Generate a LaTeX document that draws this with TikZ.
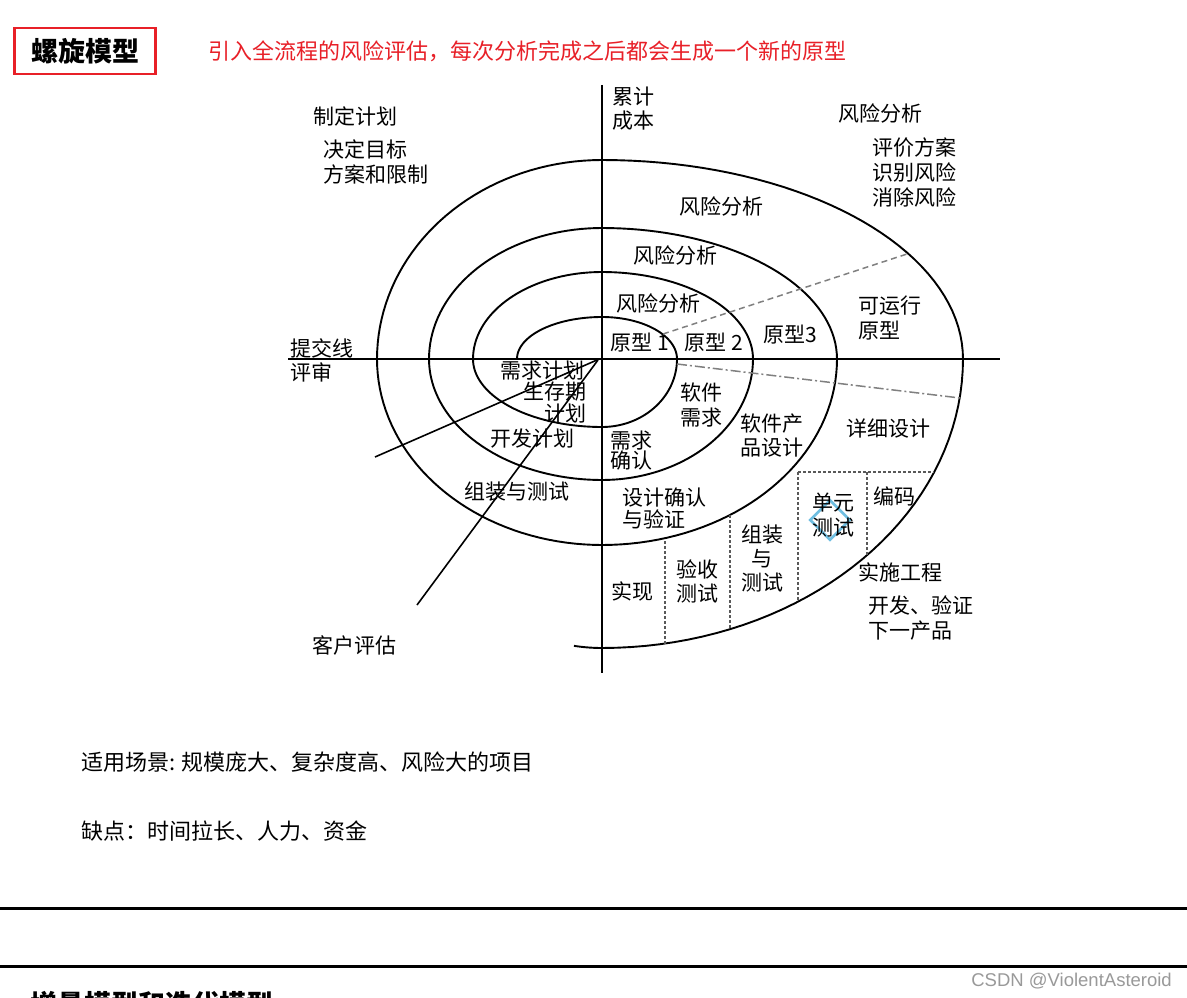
\documentclass[tikz,border=0pt]{standalone}
\usepackage{fontspec}
\setmainfont{Noto Sans CJK SC}
\newfontfamily\wmfont{Liberation Sans}
\usetikzlibrary{positioning}
\definecolor{titlered}{RGB}{232,32,40}
\definecolor{glitch}{RGB}{110,190,225}

\begin{document}
\begin{tikzpicture}[
  x=1pt, y=-1pt,
  spiral/.style={line width=1.9pt, line join=round},
  axis/.style={line width=1.6pt},
  guide/.style={draw=gray, line width=1.5pt, dash pattern=on 6pt off 4pt},
  cell/.style={draw=gray!70!black, line width=1.2pt, dash pattern=on 3pt off 2pt},
  lbl/.style={font=\fontsize{21}{25}\selectfont, inner sep=0pt, align=center},
  note/.style={font=\fontsize{22}{26}\selectfont, inner sep=0pt, anchor=west}
]
\useasboundingbox (0,0) rectangle (1187,998);
\fill[white] (0,0) rectangle (1187,998);

% heading
\node[draw=titlered, line width=2.6pt, minimum width=141pt, minimum height=46pt,
  font=\fontsize{27}{30}\selectfont\bfseries] (title) at (85,51) {螺旋模型};
\node[font=\fontsize{22}{26}\selectfont, text=titlered, inner sep=0pt, anchor=west]
  (subtitle) at (208,51) {引入全流程的风险评估，每次分析完成之后都会生成一个新的原型};

% axes
\coordinate (o) at (602,359);
\coordinate (ytop) at (602,85);
\coordinate (ybot) at (602,673);
\coordinate (xleft) at (288,359);
\coordinate (xright) at (1000,359);
\draw[axis] (ytop) -- (ybot);
\draw[axis] (xleft) -- (xright);

% spiral, quarter by quarter round (o)
\draw[spiral] (517,359)
  \foreach \a/\s/\rx/\ry in {180/90/85/42, 270/90/75/42, 0/90/75/68, 90/90/129/68,
      180/90/129/87, 270/90/151/87, 0/90/151/121, 90/90/173/121,
      180/90/173/131, 270/90/235/131, 0/90/235/186, 90/90/225/186,
      180/90/225/199, 270/90/361/199, 0/90/361/289, 90/7/230/289}
  { -- plot[domain=\a:\a+\s, samples=40, variable=\t] ({602+\rx*cos(\t)},{359+\ry*sin(\t)}) };

% customer review lines
\coordinate (c1) at (375,457);
\coordinate (c2) at (417,605);
\draw[axis] (597,360) -- (c1);
\draw[axis] (598,360) -- (c2);

% prototype guides
\draw[guide] (663,334) -- (907,254);
\draw[guide, dash pattern=on 10pt off 3pt on 2pt off 3pt] (677,364) -- (960,398);

% implementation cells
\draw[cell] (798,472) -- (934,472);
\draw[cell] (798,472) -- (798,602);
\draw[cell] (867,472) -- (867,555);
\draw[cell] (730,515) -- (730,629);
\draw[cell] (665,541) -- (665,644);
\draw[glitch, line width=2.6pt, rotate around={45:(830,520)}] (816,506) rectangle (844,534);

% labels
\node[lbl] (plan) at (355,116) {制定计划};
\node[lbl, anchor=west, align=left] (goal) at (323,162) {决定目标\\方案和限制};
\node[lbl, anchor=west, align=left, font=\fontsize{21}{24}\selectfont] (cost) at (612,109) {累计\\成本};
\node[lbl] (risk) at (880,113) {风险分析};
\node[lbl, anchor=west, align=left] (eval) at (872,172) {评价方案\\识别风险\\消除风险};
\node[lbl] (risk4) at (721,206) {风险分析};
\node[lbl] (risk3) at (675,255) {风险分析};
\node[lbl] (risk2) at (658,303) {风险分析};
\node[lbl] (proto1) at (640,343) {原型 1};
\node[lbl] (proto2) at (714,343) {原型 2};
\node[lbl, fill=white, inner sep=1pt] (proto3) at (790,335) {原型3};
\node[lbl, anchor=west, align=left] (proto4) at (858,318) {可运行\\原型};
\node[lbl, anchor=west] (commit) at (290,348) {提交线};
\node[lbl, anchor=west] (review) at (290,372) {评审};
\node[lbl] (reqplan) at (542,371) {需求计划};
\node[lbl, anchor=east, align=right, font=\fontsize{21}{22}\selectfont] (life) at (587,403) {生存期\\计划};
\node[lbl] (devplan) at (532,439) {开发计划};
\node[lbl, anchor=west, align=left, font=\fontsize{21}{20}\selectfont] (reqok) at (610,451) {需求\\确认};
\node[lbl] (integ) at (517,492) {组装与测试};
\node[lbl, anchor=west, align=left, font=\fontsize{21}{22}\selectfont] (verify) at (622,508) {设计确认\\与验证};
\node[lbl] (impl) at (632,591) {实现};
\node[lbl, font=\fontsize{21}{24}\selectfont] (accept) at (697,581) {验收\\测试};
\node[lbl, font=\fontsize{21}{24}\selectfont] (assemble) at (762,558) {组装\\与\\测试};
\node[lbl] (unit) at (833,515) {单元\\测试};
\node[lbl] (code) at (894,496) {编码};
\node[lbl] (engin) at (900,572) {实施工程};
\node[lbl, anchor=west, align=left] (next) at (868,618) {开发、验证\\下一产品};
\node[lbl] (swreq) at (701,405) {软件\\需求};
\node[lbl, anchor=west, align=left, font=\fontsize{21}{24}\selectfont] (swdes) at (740,436) {软件产\\品设计};
\node[lbl] (detail) at (888,429) {详细设计};
\node[lbl] (client) at (354,645) {客户评估};

% notes below
\node[note] (usage) at (81,762) {适用场景: 规模庞大、复杂度高、风险大的项目};
\node[note] (cons) at (81,831) {缺点：时间拉长、人力、资金};
\draw[line width=3pt] (0,908) -- (1187,908);
\draw[line width=3pt] (0,966) -- (1187,966);
\begin{scope}
  \clip (0,0) rectangle (1187,998);
  \node[font=\fontsize{27}{30}\selectfont\bfseries, inner sep=0pt, anchor=north west]
    (nexttitle) at (30,991) {增量模型和迭代模型};
\end{scope}
\node[font=\fontsize{18.5}{21}\wmfont, text=gray!80, inner sep=0pt, anchor=east]
  (mark) at (1172,981) {CSDN @ViolentAsteroid};
\end{tikzpicture}
\end{document}
